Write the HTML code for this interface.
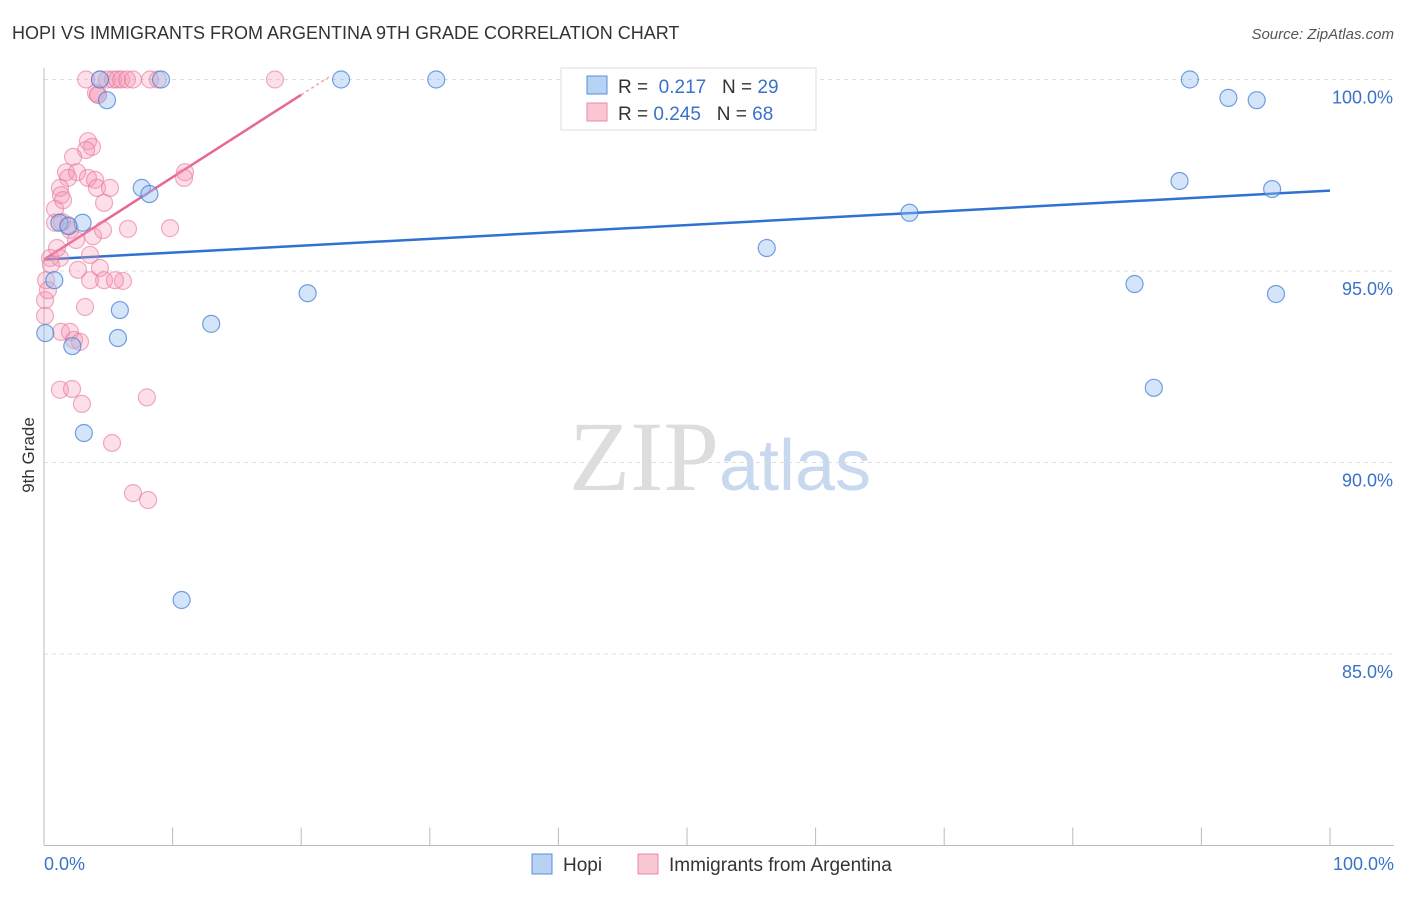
<!DOCTYPE html>
<html><head><meta charset="utf-8"><style>
body{margin:0;background:#fff;font-family:"Liberation Sans",sans-serif;}
svg text{font-family:"Liberation Sans",sans-serif;}
</style></head><body>
<svg id="chart" width="1406" height="892" viewBox="0 0 1406 892" xmlns="http://www.w3.org/2000/svg">
<text x="12" y="39" font-size="18" fill="#333">HOPI VS IMMIGRANTS FROM ARGENTINA 9TH GRADE CORRELATION CHART</text>
<text x="1394" y="39" font-size="15" fill="#555" text-anchor="end" font-style="italic">Source: ZipAtlas.com</text>
<text x="720" y="490" font-size="100" text-anchor="middle"><tspan font-family="Liberation Serif" fill="#ddd">ZIP</tspan><tspan fill="#c8d8ee" font-size="72">atlas</tspan></text>
<g id="grid"></g>
<g id="axes"></g>
<g id="trend"></g>
<g id="pts"></g>
<text transform="translate(34,455) rotate(-90)" font-size="17" fill="#333" text-anchor="middle">9th Grade</text>
<g>
<rect x="561" y="68" width="255" height="62" fill="#fff" stroke="#ddd"/>
<rect x="587" y="76" width="20" height="18" fill="#b8d2f4" stroke="#5a8fd8"/>
<rect x="587" y="103" width="20" height="18" fill="#f9c6d4" stroke="#e98aa6"/>
<text x="618" y="93" font-size="19" fill="#333">R = <tspan fill="#3a72c8">&#160;0.217</tspan>&#160;&#160;&#160;N = <tspan fill="#3a72c8">29</tspan></text>
<text x="618" y="120" font-size="19" fill="#333">R = <tspan fill="#3a72c8">0.245</tspan>&#160;&#160;&#160;N = <tspan fill="#3a72c8">68</tspan></text>
</g>
<g>
<rect x="532" y="854" width="20" height="20" fill="#b8d2f4" stroke="#5a8fd8"/>
<text x="563" y="871" font-size="19" fill="#333">Hopi</text>
<rect x="638" y="854" width="20" height="20" fill="#f9c6d4" stroke="#e98aa6"/>
<text x="669" y="871" font-size="19" fill="#333">Immigrants from Argentina</text>
</g>
</svg>
<script>
const yTicks=[100,95,90,85];
const yTickLabels=["100.0%","95.0%","90.0%","85.0%"];
const xEndLabels=["0.0%","100.0%"];
const hopiX=[4.35,9.1,23.1,30.5,89.1,4.9,92.1,94.3,7.6,8.2,88.3,95.5,67.3,1.2,3.0,1.9,56.2,0.8,20.5,84.8,95.8,5.9,13.0,0.1,5.75,2.2,86.3,3.1,10.7];
const hopiY=[100,100,100,100,100,99.46,99.52,99.46,97.17,97.01,97.35,97.14,96.52,96.26,96.26,96.17,95.6,94.76,94.42,94.66,94.4,93.98,93.62,93.38,93.25,93.04,91.95,90.77,86.41];
const argX=[3.27,4.35,4.9,5.37,5.68,6.0,6.45,6.92,8.24,8.86,17.96,4.04,4.2,3.42,3.73,3.27,2.26,1.71,2.57,3.42,3.97,1.87,1.24,1.32,4.12,5.13,4.67,1.48,0.86,10.96,10.89,0.86,6.53,9.8,2.02,3.81,2.49,0.47,1.24,3.58,2.64,4.35,4.67,3.58,6.14,0.54,0.16,0.08,0.08,3.19,1.32,2.02,2.33,2.8,1.24,2.18,2.95,8.0,5.29,6.92,8.09,1.87,4.2,1.4,4.59,5.52,1.01,0.31];
const argY=[100,100,100,100,100,100,100,100,100,100,100,99.65,99.6,98.39,98.24,98.16,97.98,97.58,97.58,97.43,97.38,97.43,97.17,96.98,97.17,97.17,96.78,96.85,96.62,97.58,97.43,96.26,96.1,96.12,96.07,95.91,95.81,95.34,95.34,95.42,95.03,95.08,94.76,94.76,94.74,95.16,94.76,94.24,93.83,94.06,93.41,93.41,93.2,93.15,91.9,91.92,91.53,91.7,90.51,89.2,89.02,96.2,99.6,96.28,96.07,94.76,95.6,94.5];
const hopiTrendX=[0,100], hopiTrendY=[95.3,97.1];
const argTrendX=[0,20], argTrendY=[95.3,99.6];
const NS="http://www.w3.org/2000/svg";
const X0=44,X1=1330,Y100=79.5,PXPER=38.3;
const sx=v=>X0+(X1-X0)*v/100, sy=v=>Y100+(100-v)*PXPER;
function mk(tag,attrs,parent){const e=document.createElementNS(NS,tag);for(const k in attrs)e.setAttribute(k,attrs[k]);parent.appendChild(e);return e;}
const grid=document.getElementById('grid'),axes=document.getElementById('axes');
yTicks.forEach((t,i)=>{
 const l=mk('line',{x1:X0,x2:1394,y1:sy(t),y2:sy(t),stroke:'#ddd','stroke-dasharray':'4,4'},grid);
 
 
 const tx=mk('text',{x:1393,y:sy(t)+24,'font-size':18,fill:'#3a72c8','text-anchor':'end'},axes);
 tx.textContent=yTickLabels[i];
 
 
});
const yb=sy(80);
const ax=mk('line',{x1:X0,x2:1394,y1:yb,y2:yb,stroke:'#bbb'},axes);


const ay=mk('line',{x1:X0,x2:X0,y1:68,y2:yb,stroke:'#bbb'},axes);


for(let i=0;i<=10;i++){
 const t=mk('line',{x1:sx(i*10),x2:sx(i*10),y1:yb-18,y2:yb,stroke:'#bbb'},axes);
 
 
}
[[0,'start',44],[100,'end',1394]].forEach((d,i)=>{
 const t=mk('text',{x:d[2],y:870,'font-size':18,fill:'#3a72c8','text-anchor':d[1]},axes);
 t.textContent=xEndLabels[i];
 
 
});
const pts=document.getElementById('pts');
argX.forEach((x,i)=>{
 const c=mk('circle',{cx:sx(x),cy:sy(argY[i]),r:8.5,fill:'rgba(244,150,180,0.3)',stroke:'rgba(232,120,155,0.6)','stroke-width':1.2},pts);
 
 
});
hopiX.forEach((x,i)=>{
 const c=mk('circle',{cx:sx(x),cy:sy(hopiY[i]),r:8.5,fill:'rgba(150,190,240,0.4)',stroke:'rgba(70,130,215,0.75)','stroke-width':1.2},pts);
 
 
});
const tr=document.getElementById('trend');
const hl=mk('line',{x1:sx(hopiTrendX[0]),y1:sy(hopiTrendY[0]),x2:sx(hopiTrendX[1]),y2:sy(hopiTrendY[1]),stroke:'#2f72d0','stroke-width':2.5},tr);


const al=mk('line',{x1:sx(argTrendX[0]),y1:sy(argTrendY[0]),x2:sx(argTrendX[1]),y2:sy(argTrendY[1]),stroke:'#e86892','stroke-width':2.5},tr);


const slope=(argTrendY[1]-argTrendY[0])/(argTrendX[1]-argTrendX[0]);
const xe=argTrendX[1]+(100.1-argTrendY[1])/slope;
const ad=mk('line',{x1:sx(argTrendX[1]),y1:sy(argTrendY[1]),x2:sx(xe),y2:sy(100.1),stroke:'#f0a0b8','stroke-width':1.5,'stroke-dasharray':'3,3'},tr);


</script>
</body></html>
